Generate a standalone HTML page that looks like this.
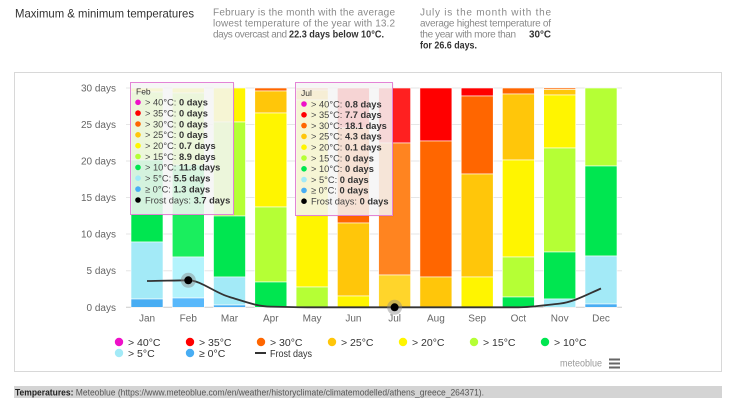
<!DOCTYPE html>
<html><head><meta charset="utf-8"><style>
html,body{margin:0;padding:0;background:#fff;width:730px;height:403px;overflow:hidden}
svg{display:block;font-family:"Liberation Sans",Arial,sans-serif}
</style></head><body>
<svg width="730" height="403" viewBox="0 0 730 403" xmlns="http://www.w3.org/2000/svg">
<!-- header -->
<text x="15" y="17.5" font-size="12" fill="#333" textLength="179" lengthAdjust="spacingAndGlyphs">Maximum &amp; minimum temperatures</text>
<g font-size="10" fill="#8a8a8a">
<text x="213" y="15.5" textLength="182" lengthAdjust="spacing">February is the month with the average</text>
<text x="213" y="26.5" textLength="182" lengthAdjust="spacing">lowest temperature of the year with 13.2</text>
<text x="213" y="37.5" textLength="74" lengthAdjust="spacing">days overcast and</text>
<text x="289" y="37.5" textLength="95" lengthAdjust="spacingAndGlyphs" font-weight="bold" fill="#333">22.3 days below 10°C.</text>
<text x="420" y="15.5" textLength="131" lengthAdjust="spacing">July is the month with the</text>
<text x="420" y="26.5" textLength="131" lengthAdjust="spacing">average highest temperature of</text>
<text x="420" y="37.5" textLength="96" lengthAdjust="spacing">the year with more than</text>
<text x="529" y="37.5" textLength="22" lengthAdjust="spacingAndGlyphs" font-weight="bold" fill="#333">30°C</text>
<text x="420" y="48.5" textLength="57" lengthAdjust="spacingAndGlyphs" font-weight="bold" fill="#333">for 26.6 days.</text>
</g>
<!-- chart box -->
<rect x="14.5" y="72.5" width="707" height="299" fill="none" stroke="#b0b0b0" stroke-width="1" stroke-dasharray="1,1"/>
<!-- gridlines -->
<g stroke="#e6e6e6" stroke-width="1">
<line x1="126" x2="622" y1="88" y2="88"/>
<line x1="126" x2="622" y1="124.5" y2="124.5"/>
<line x1="126" x2="622" y1="161" y2="161"/>
<line x1="126" x2="622" y1="197.5" y2="197.5"/>
<line x1="126" x2="622" y1="234" y2="234"/>
<line x1="126" x2="622" y1="270.7" y2="270.7"/>
<line x1="126" x2="622" y1="307.3" y2="307.3" stroke="#ccc"/>
</g>
<!-- y labels -->
<g font-size="10" fill="#666" text-anchor="end">
<text x="116" y="91.5">30 days</text>
<text x="116" y="128">25 days</text>
<text x="116" y="164.5">20 days</text>
<text x="116" y="201">15 days</text>
<text x="116" y="237.5">10 days</text>
<text x="116" y="274.2">5 days</text>
<text x="116" y="310.8">0 days</text>
</g>
<!-- month labels -->
<g font-size="10" fill="#666" text-anchor="middle">
<text x="147" y="321.5">Jan</text>
<text x="188.3" y="321.5">Feb</text>
<text x="229.5" y="321.5">Mar</text>
<text x="270.8" y="321.5">Apr</text>
<text x="312.1" y="321.5">May</text>
<text x="353.4" y="321.5">Jun</text>
<text x="394.6" y="321.5">Jul</text>
<text x="435.9" y="321.5">Aug</text>
<text x="477.2" y="321.5">Sep</text>
<text x="518.4" y="321.5">Oct</text>
<text x="559.7" y="321.5">Nov</text>
<text x="601" y="321.5">Dec</text>
</g>
<!-- bars -->
<g stroke="#fff" stroke-width="0.6">
<!-- Jan -->
<rect x="131" width="32" y="88" height="4" fill="#fff500"/>
<rect x="131" width="32" y="92" height="68" fill="#b5ff35"/>
<rect x="131" width="32" y="160" height="82" fill="#00e650"/>
<rect x="131" width="32" y="242" height="57" fill="#a3eaf7"/>
<rect x="131" width="32" y="299" height="8.3" fill="#48adf3"/>
<!-- Feb -->
<rect x="172.3" width="32" y="88" height="5" fill="#fff500"/>
<rect x="172.3" width="32" y="93" height="72" fill="#b5ff35"/>
<rect x="172.3" width="32" y="165" height="92" fill="#1aee5e"/>
<rect x="172.3" width="32" y="257" height="41" fill="#b3f3fc"/>
<rect x="172.3" width="32" y="298" height="9.3" fill="#58b8fb"/>
<!-- Mar -->
<rect x="213.5" width="32" y="88" height="34" fill="#fff500"/>
<rect x="213.5" width="32" y="122" height="94" fill="#b5ff35"/>
<rect x="213.5" width="32" y="216" height="61" fill="#00e650"/>
<rect x="213.5" width="32" y="277" height="28" fill="#a3eaf7"/>
<rect x="213.5" width="32" y="305" height="2.3" fill="#48adf3"/>
<!-- Apr -->
<rect x="254.8" width="32" y="88" height="3" fill="#ff6600"/>
<rect x="254.8" width="32" y="91" height="22" fill="#ffc60a"/>
<rect x="254.8" width="32" y="113" height="94" fill="#fff500"/>
<rect x="254.8" width="32" y="207" height="75" fill="#b5ff35"/>
<rect x="254.8" width="32" y="282" height="25.3" fill="#00e650"/>
<!-- May -->
<rect x="296.1" width="32" y="88" height="2" fill="#ff6600"/>
<rect x="296.1" width="32" y="90" height="10" fill="#ffc60a"/>
<rect x="296.1" width="32" y="100" height="187" fill="#fff500"/>
<rect x="296.1" width="32" y="287" height="20.3" fill="#b5ff35"/>
<!-- Jun -->
<rect x="337.4" width="32" y="88" height="40" fill="#ff0000"/>
<rect x="337.4" width="32" y="128" height="95" fill="#ff6600"/>
<rect x="337.4" width="32" y="223" height="73" fill="#ffc60a"/>
<rect x="337.4" width="32" y="296" height="11.3" fill="#fff500"/>
<!-- Jul -->
<rect x="378.6" width="32" y="88" height="55" fill="#ff2020"/>
<rect x="378.6" width="32" y="143" height="132" fill="#ff8420"/>
<rect x="378.6" width="32" y="275" height="32.3" fill="#ffd52b"/>
<!-- Aug -->
<rect x="419.9" width="32" y="88" height="53" fill="#ff0000"/>
<rect x="419.9" width="32" y="141" height="136" fill="#ff6600"/>
<rect x="419.9" width="32" y="277" height="30.3" fill="#ffc60a"/>
<!-- Sep -->
<rect x="461.2" width="32" y="88" height="8" fill="#ff0000"/>
<rect x="461.2" width="32" y="96" height="78" fill="#ff6600"/>
<rect x="461.2" width="32" y="174" height="103" fill="#ffc60a"/>
<rect x="461.2" width="32" y="277" height="30.3" fill="#fff500"/>
<!-- Oct -->
<rect x="502.4" width="32" y="88" height="6" fill="#ff6600"/>
<rect x="502.4" width="32" y="94" height="66" fill="#ffc60a"/>
<rect x="502.4" width="32" y="160" height="97" fill="#fff500"/>
<rect x="502.4" width="32" y="257" height="40" fill="#b5ff35"/>
<rect x="502.4" width="32" y="297" height="10.3" fill="#00e650"/>
<!-- Nov -->
<rect x="543.7" width="32" y="88" height="1.5" fill="#ff6600"/>
<rect x="543.7" width="32" y="89.5" height="5.5" fill="#ffc60a"/>
<rect x="543.7" width="32" y="95" height="53" fill="#fff500"/>
<rect x="543.7" width="32" y="148" height="104" fill="#b5ff35"/>
<rect x="543.7" width="32" y="252" height="47" fill="#00e650"/>
<rect x="543.7" width="32" y="299" height="8.3" fill="#a3eaf7"/>
<!-- Dec -->
<rect x="585" width="32" y="88" height="78" fill="#b5ff35"/>
<rect x="585" width="32" y="166" height="90" fill="#00e650"/>
<rect x="585" width="32" y="256" height="48" fill="#a3eaf7"/>
<rect x="585" width="32" y="304" height="3.3" fill="#48adf3"/>
</g>
<!-- frost line -->
<path d="M147,281 C160,281 175,280.3 188.3,280.3 C201,280.3 215,293 229.5,297 C243,301 257,306.5 270.8,306.6 C285,307 300,307.3 312.1,307.3 L518.4,307.3 C532,307.3 546,305 559.7,303.6 C574,302 588,294 601,288.5" fill="none" stroke="#333" stroke-width="1.8"/>
<circle cx="188.3" cy="280.3" r="7.5" fill="#888" fill-opacity="0.45"/>
<circle cx="188.3" cy="280.3" r="4" fill="#000"/>
<circle cx="394.6" cy="307.3" r="7.5" fill="#888" fill-opacity="0.45"/>
<circle cx="394.6" cy="307.3" r="4" fill="#000"/>
<!-- Feb tooltip -->
<rect x="131.5" y="83.5" width="103" height="132" fill="#000" fill-opacity="0.06"/>
<rect x="130.5" y="82.5" width="103" height="132" fill="#f7f7f7" fill-opacity="0.86" stroke="#e384d6" stroke-width="1"/>
<g font-size="9.3" fill="#444">
<text x="136" y="94.5" font-size="8.5" fill="#333">Feb</text>
<circle cx="138" cy="102.3" r="2.8" fill="#ee10c8"/><text x="145" y="105.6">&gt; 40°C: <tspan font-weight="bold" fill="#333">0 days</tspan></text>
<circle cx="138" cy="113.1" r="2.8" fill="#ff0000"/><text x="145" y="116.4">&gt; 35°C: <tspan font-weight="bold" fill="#333">0 days</tspan></text>
<circle cx="138" cy="124" r="2.8" fill="#ff6600"/><text x="145" y="127.3">&gt; 30°C: <tspan font-weight="bold" fill="#333">0 days</tspan></text>
<circle cx="138" cy="134.8" r="2.8" fill="#ffc60a"/><text x="145" y="138.1">&gt; 25°C: <tspan font-weight="bold" fill="#333">0 days</tspan></text>
<circle cx="138" cy="145.7" r="2.8" fill="#fff500"/><text x="145" y="149">&gt; 20°C: <tspan font-weight="bold" fill="#333">0.7 days</tspan></text>
<circle cx="138" cy="156.5" r="2.8" fill="#b5ff35"/><text x="145" y="159.8">&gt; 15°C: <tspan font-weight="bold" fill="#333">8.9 days</tspan></text>
<circle cx="138" cy="167.4" r="2.8" fill="#00e650"/><text x="145" y="170.7">&gt; 10°C: <tspan font-weight="bold" fill="#333">11.8 days</tspan></text>
<circle cx="138" cy="178.2" r="2.8" fill="#a3eaf7"/><text x="145" y="181.5">&gt; 5°C: <tspan font-weight="bold" fill="#333">5.5 days</tspan></text>
<circle cx="138" cy="189.1" r="2.8" fill="#48adf3"/><text x="145" y="192.4">≥ 0°C: <tspan font-weight="bold" fill="#333">1.3 days</tspan></text>
<circle cx="138" cy="200" r="2.8" fill="#000"/><text x="145" y="203.3">Frost days: <tspan font-weight="bold" fill="#333">3.7 days</tspan></text>
</g>
<!-- Jul tooltip -->
<rect x="296.5" y="83.5" width="97" height="133" fill="#000" fill-opacity="0.06"/>
<rect x="295.5" y="82.5" width="97" height="133" fill="#f7f7f7" fill-opacity="0.86" stroke="#e384d6" stroke-width="1"/>
<g font-size="9.3" fill="#444">
<text x="301" y="96" font-size="8.5" fill="#333">Jul</text>
<circle cx="304" cy="104" r="2.8" fill="#ee10c8"/><text x="311" y="107.3">&gt; 40°C: <tspan font-weight="bold" fill="#333">0.8 days</tspan></text>
<circle cx="304" cy="114.8" r="2.8" fill="#ff0000"/><text x="311" y="118.1">&gt; 35°C: <tspan font-weight="bold" fill="#333">7.7 days</tspan></text>
<circle cx="304" cy="125.6" r="2.8" fill="#ff6600"/><text x="311" y="128.9">&gt; 30°C: <tspan font-weight="bold" fill="#333">18.1 days</tspan></text>
<circle cx="304" cy="136.4" r="2.8" fill="#ffc60a"/><text x="311" y="139.7">&gt; 25°C: <tspan font-weight="bold" fill="#333">4.3 days</tspan></text>
<circle cx="304" cy="147.2" r="2.8" fill="#fff500"/><text x="311" y="150.5">&gt; 20°C: <tspan font-weight="bold" fill="#333">0.1 days</tspan></text>
<circle cx="304" cy="158" r="2.8" fill="#b5ff35"/><text x="311" y="161.3">&gt; 15°C: <tspan font-weight="bold" fill="#333">0 days</tspan></text>
<circle cx="304" cy="168.8" r="2.8" fill="#00e650"/><text x="311" y="172.1">&gt; 10°C: <tspan font-weight="bold" fill="#333">0 days</tspan></text>
<circle cx="304" cy="179.6" r="2.8" fill="#a3eaf7"/><text x="311" y="182.9">&gt; 5°C: <tspan font-weight="bold" fill="#333">0 days</tspan></text>
<circle cx="304" cy="190.4" r="2.8" fill="#48adf3"/><text x="311" y="193.7">≥ 0°C: <tspan font-weight="bold" fill="#333">0 days</tspan></text>
<circle cx="304" cy="201.2" r="2.8" fill="#000"/><text x="311" y="204.5">Frost days: <tspan font-weight="bold" fill="#333">0 days</tspan></text>
</g>
<!-- legend -->
<g font-size="10.5" fill="#333">
<circle cx="119" cy="342" r="4.2" fill="#ee10c8"/><text x="128" y="345.8">&gt; 40°C</text>
<circle cx="190" cy="342" r="4.2" fill="#ff0000"/><text x="199" y="345.8">&gt; 35°C</text>
<circle cx="261" cy="342" r="4.2" fill="#ff6600"/><text x="270" y="345.8">&gt; 30°C</text>
<circle cx="332" cy="342" r="4.2" fill="#ffc60a"/><text x="341" y="345.8">&gt; 25°C</text>
<circle cx="403" cy="342" r="4.2" fill="#fff500"/><text x="412" y="345.8">&gt; 20°C</text>
<circle cx="474" cy="342" r="4.2" fill="#b5ff35"/><text x="483" y="345.8">&gt; 15°C</text>
<circle cx="545" cy="342" r="4.2" fill="#00e650"/><text x="554" y="345.8">&gt; 10°C</text>
<circle cx="119" cy="353" r="4.2" fill="#a3eaf7"/><text x="128" y="356.8">&gt; 5°C</text>
<circle cx="190" cy="353" r="4.2" fill="#48adf3"/><text x="199" y="356.8">≥ 0°C</text>
<line x1="255" x2="266" y1="353" y2="353" stroke="#333" stroke-width="2"/><text x="270" y="356.8" textLength="42" lengthAdjust="spacingAndGlyphs">Frost days</text>
</g>
<text x="560" y="366.5" font-size="10" fill="#999" textLength="42" lengthAdjust="spacingAndGlyphs">meteoblue</text>
<g fill="#666">
<rect x="609" y="358.5" width="11" height="2"/>
<rect x="609" y="362.5" width="11" height="2"/>
<rect x="609" y="366.5" width="11" height="2"/>
</g>
<!-- footer -->
<rect x="14" y="386" width="708" height="12" fill="#d4d4d4"/>
<text x="15" y="395.5" font-size="9" fill="#555" textLength="469" lengthAdjust="spacingAndGlyphs"><tspan font-weight="bold" fill="#222">Temperatures:</tspan> Meteoblue (https://www.meteoblue.com/en/weather/historyclimate/climatemodelled/athens_greece_264371).</text>
</svg>
</body></html>
